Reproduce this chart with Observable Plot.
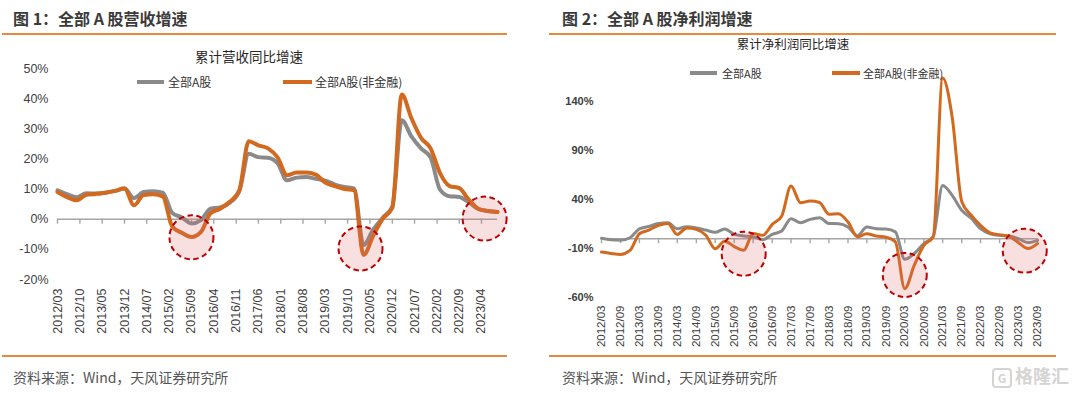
<!DOCTYPE html>
<html><head><meta charset="utf-8">
<script src="https://cdn.jsdelivr.net/npm/d3@7"></script>
<script src="https://cdn.jsdelivr.net/npm/@observablehq/plot@0.6"></script>
<style>
body{margin:0;background:#fff;}
#root{position:relative;width:1080px;height:393px;overflow:hidden;font-family:"Liberation Sans","Noto Sans CJK SC",sans-serif;}
.abs{position:absolute;white-space:nowrap;line-height:1;}
.vc{transform:translateY(-50%);}
.title{font-family:"Noto Sans CJK SC",sans-serif;font-size:16px;font-weight:bold;color:#3a3a3a;}
.hr{position:absolute;height:2px;background:#e8893c;}
.src{font-family:"Noto Sans CJK SC",sans-serif;font-size:14px;color:#555;}
.ct{font-family:"Noto Sans CJK SC",sans-serif;color:#262626;transform:translate(-50%,-50%);}
.sw{position:absolute;}
.lg{font-family:"Noto Sans CJK SC",sans-serif;color:#333;}
.plot{position:absolute;top:0;}
.wm{font-family:"Noto Sans CJK SC",sans-serif;font-size:18px;font-weight:bold;color:#d4d4d4;}
</style>
</head><body>
<div id="root">
  <div id="leftPlot" class="plot" style="left:0;"></div>
  <div id="rightPlot" class="plot" style="left:540px;"></div>

  <div class="abs vc title" style="left:13px;top:18px;">图 1：全部 A 股营收增速</div>
  <div class="hr" style="left:2px;width:505px;top:33px;"></div>
  <div class="abs vc title" style="left:562px;top:18px;">图 2：全部 A 股净利润增速</div>
  <div class="hr" style="left:549px;width:507px;top:33px;"></div>

  <div class="abs ct" style="left:249px;top:57px;font-size:13.5px;">累计营收同比增速</div>
  <div class="abs ct" style="left:793px;top:44px;font-size:12.5px;">累计净利润同比增速</div>

  <div class="sw" style="left:137px;top:80px;width:27px;height:4px;background:#8a8a8a;"></div>
  <div class="abs vc lg" style="left:168px;top:82px;font-size:12px;">全部A股</div>
  <div class="sw" style="left:283px;top:80px;width:29px;height:4px;background:#d2691e;"></div>
  <div class="abs vc lg" style="left:315px;top:82px;font-size:12px;">全部A股(非金融)</div>

  <div class="sw" style="left:690px;top:71px;width:27px;height:3.5px;background:#8a8a8a;"></div>
  <div class="abs vc lg" style="left:722px;top:73px;font-size:11px;">全部A股</div>
  <div class="sw" style="left:832px;top:71px;width:28px;height:3.5px;background:#d2691e;"></div>
  <div class="abs vc lg" style="left:863px;top:73px;font-size:11px;">全部A股(非金融)</div>

  <div class="hr" style="left:2px;width:505px;top:355px;"></div>
  <div class="hr" style="left:549px;width:507px;top:355px;"></div>
  <div class="abs vc src" style="left:13px;top:377px;">资料来源：Wind，天风证券研究所</div>
  <div class="abs vc src" style="left:562px;top:377px;">资料来源：Wind，天风证券研究所</div>
  <div class="abs vc wm" style="left:992px;top:377px;"><span style="display:inline-block;width:16px;height:16px;border:2px solid #d4d4d4;border-radius:4px;font-size:12px;text-align:center;line-height:16px;vertical-align:middle;margin-right:3px;">G</span>格隆汇</div>
</div>
<script>
// ---------- data ----------
const quarters = ["2012/03","2012/06","2012/09","2012/12","2013/03","2013/06","2013/09","2013/12",
  "2014/03","2014/06","2014/09","2014/12","2015/03","2015/06","2015/09","2015/12",
  "2016/03","2016/06","2016/09","2016/12","2017/03","2017/06","2017/09","2017/12",
  "2018/03","2018/06","2018/09","2018/12","2019/03","2019/06","2019/09","2019/12",
  "2020/03","2020/06","2020/09","2020/12","2021/03","2021/06","2021/09","2021/12",
  "2022/03","2022/06","2022/09","2022/12","2023/03","2023/06","2023/09"];

// 图1 累计营收同比增速 (%)
const revAll = [9.6, 8.3, 7.3, 8.6, 8.5, 8.8, 9.4, 10.2, 7.0, 9.0, 9.3, 8.8,
  2.1, 0.6, -1.4, -0.3, 3.5, 3.9, 5.5, 9.3, 21.7, 20.6, 20.4, 18.6,
  12.9, 13.8, 14.0, 13.4, 12.8, 11.5, 10.7, 10.2, -8.6, -3.5, 0.5, 4.2,
  32.8, 27.5, 23.5, 20.5, 9.8, 7.6, 7.4, 5.6, 3.4, 2.7, 2.4];
const revNonFin = [9.0, 7.3, 6.3, 8.1, 8.4, 8.8, 9.4, 10.2, 4.6, 8.0, 8.3, 7.6,
  -2.4, -4.5, -5.9, -4.2, 2.0, 3.5, 5.8, 9.6, 25.9, 24.5, 23.5, 20.5,
  14.6, 15.5, 15.5, 14.8, 12.2, 11.0, 10.0, 9.6, -11.9, -5.5, 0.2, 3.8,
  41.4, 33.5, 27.0, 23.5, 15.3, 11.0, 10.3, 6.5, 3.5, 2.7, 2.4];

// 图2 累计净利润同比增速 (%)
const profAll = [0.5, -1, -1.5, 1, 10, 12.5, 15.5, 16.2, 10.2, 12.2, 11, 8.8,
  6.5, 10, 4.4, 2.7, 2, -1, 4.4, 7.8, 20.4, 16.3, 19.7, 21.4,
  15.5, 15.3, 12, 3, 11.9, 10.2, 9.8, 7, -21, -15, -5, 2.5,
  54.4, 44.2, 29, 21, 10.2, 5, 3.4, 2.7, 0, -4, -1.7];
const profNonFin = [-13.6, -15, -16, -12, 5, 8.8, 13.6, 15.6, 4.4, 11, 9.5, 3.5,
  -10.2, -2.5, -8, -11.9, 5.4, 3.4, 14.6, 23, 53.7, 36.7, 38.4, 37,
  25, 25.5, 17, 2, 5, 2.7, 1.5, -3, -51, -27, -6.8, 2,
  164, 124, 38, 24, 13.6, 6, 4, 2.5, -4, -10, -5];

// tick labels
const xTickLabelsL = ["2012/03","2012/10","2013/05","2013/12","2014/07","2015/02","2015/09","2016/04",
  "2016/11","2017/06","2018/01","2018/08","2019/03","2019/10","2020/05","2020/12","2021/07",
  "2022/02","2022/09","2023/04"];
const xTickLabelsR = ["2012/03","2012/09","2013/03","2013/09","2014/03","2014/09","2015/03","2015/09",
  "2016/03","2016/09","2017/03","2017/09","2018/03","2018/09","2019/03","2019/09","2020/03",
  "2020/09","2021/03","2021/09","2022/03","2022/09","2023/03","2023/09"];
const yTicksL = [-20, -10, 0, 10, 20, 30, 40, 50];
const yTicksR = [-60, -10, 40, 90, 140];

// highlighted circles
const circleDatesL = ["2015/09", "2020/02", "2023/05"];
const circleValsL = [-6, -9.7, 0.2];
const circleDatesR = ["2015/12", "2020/03", "2023/05"];
const circleValsR = [-15.3, -37, -12.2];

// ---------- drawing ----------
const parse = d3.utcParse("%Y/%m");
const fmt = d3.utcFormat("%Y/%m");
const GRAY = "#8a8a8a", ORANGE = "#d2691e", AXIS = "#a6a6a6";
const rows = (arr) => quarters.map((q, i) => ({date: parse(q), value: arr[i]}));
const circ = (ds, vs) => ds.map((d, i) => ({date: parse(d), value: vs[i]}));

function makeChart(o) {
  const ticks = o.xLabels.map(parse);
  return Plot.plot({
    width: 540, height: 345,
    marginTop: o.mt, marginBottom: o.mb, marginLeft: o.ml, marginRight: o.mr,
    style: {fontFamily: "'Liberation Sans','Noto Sans CJK SC',sans-serif", fontSize: o.xFont + "px", color: "#404040", background: "transparent", overflow: "visible"},
    x: {type: "utc", domain: [parse(quarters[0]), parse(quarters[quarters.length - 1])], label: null},
    y: {domain: o.yDomain, label: null},
    marks: [
      Plot.axisY({ticks: o.yTicks, tickSize: 0, tickPadding: o.yPad, tickFormat: d => d + "%", fontSize: o.yFont, fontWeight: o.yWeight, label: null}),
      Plot.axisX({ticks, tickSize: 0, tickRotate: -90, tickPadding: o.xPad, tickFormat: fmt, fontSize: o.xFont, label: null}),
      Plot.ruleY([0], {stroke: AXIS, strokeWidth: 1.6}),
      Plot.ruleX(ticks, {x: d => d, y1: 0, y2: 0, insetBottom: -5, stroke: AXIS, strokeWidth: 1.4}),
      Plot.line(rows(o.a), {x: "date", y: "value", stroke: GRAY, strokeWidth: o.lw, curve: "monotone-x"}),
      Plot.line(rows(o.b), {x: "date", y: "value", stroke: ORANGE, strokeWidth: o.lw, curve: "monotone-x"}),
      Plot.dot(o.circles, {x: "date", y: "value", r: 22, fill: "#e06666", fillOpacity: 0.2, stroke: "#c00000", strokeWidth: 2, strokeDasharray: "5.5,3.5"})
    ]
  });
}

document.getElementById("leftPlot").append(makeChart({
  mt: 68, mb: 66, ml: 57, mr: 43, yDomain: [-20, 50], yTicks: yTicksL, yPad: 9, yFont: 12.5, yWeight: "normal",
  xLabels: xTickLabelsL, xPad: 9, xFont: 12.5, a: revAll, b: revNonFin, lw: 4,
  circles: circ(circleDatesL, circleValsL)
}));
document.getElementById("rightPlot").append(makeChart({
  mt: 52, mb: 48, ml: 61, mr: 43, yDomain: [-60, 190], yTicks: yTicksR, yPad: 8, yFont: 11, yWeight: "bold",
  xLabels: xTickLabelsR, xPad: 8, xFont: 11.5, a: profAll, b: profNonFin, lw: 3,
  circles: circ(circleDatesR, circleValsR)
}));
</script>
</body></html>
